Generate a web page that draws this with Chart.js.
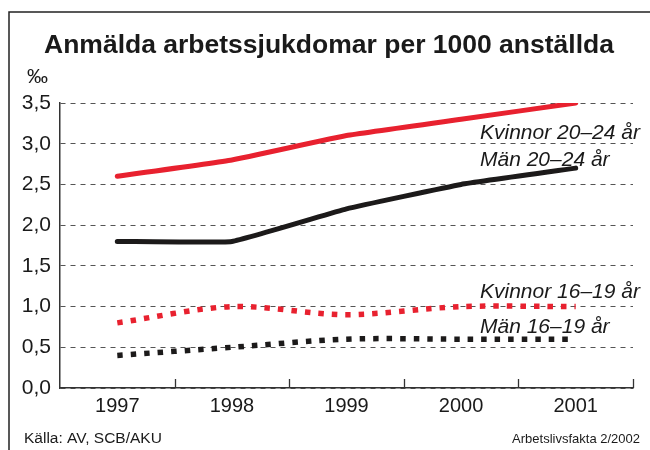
<!DOCTYPE html>
<html>
<head>
<meta charset="utf-8">
<script src="https://cdn.jsdelivr.net/npm/chart.js@4"></script>
<style>
  html, body { margin: 0; padding: 0; background: #fff; }
  #wrap { width: 650px; height: 450px; position: relative; }
</style>
</head>
<body>
<div id="wrap"><canvas id="chart" width="650" height="450"></canvas></div>
<script>
// data
const years = ['1997', '1998', '1999', '2000', '2001'];
const kvinnor2024 = [2.6, 2.8, 3.1, 3.3, 3.5];
const man2024 = [1.8, 1.8, 2.2, 2.5, 2.7];
const kvinnor1619 = [0.8, 1.0, 0.9, 1.0, 1.0];
const man1619 = [0.4, 0.5, 0.6, 0.6, 0.6];
const seriesNames = ['Kvinnor 20–24 år', 'Män 20–24 år', 'Kvinnor 16–19 år', 'Män 16–19 år'];

const RED = '#e8212f';
const BLACK = '#1c1a1a';
const FONT = '"Liberation Sans", Arial, sans-serif';

// title, frame, series labels, footer, inward x ticks
const decor = {
    id: 'decor',
    afterDraw(chart) {
        const ctx = chart.ctx;
        const a = chart.chartArea;
        ctx.save();

        // frame (only left + top edges show in the reference)
        ctx.strokeStyle = '#222';
        ctx.lineWidth = 1.5;
        ctx.beginPath();
        ctx.moveTo(9, 450);
        ctx.lineTo(9, 12);
        ctx.lineTo(650, 12);
        ctx.stroke();

        // title
        ctx.fillStyle = '#1a1a1a';
        ctx.font = 'bold 26.5px ' + FONT;
        ctx.textAlign = 'center';
        ctx.textBaseline = 'alphabetic';
        ctx.fillText('Anmälda arbetssjukdomar per 1000 anställda', 329, 53);

        // unit
        ctx.font = '21px ' + FONT;
        ctx.textAlign = 'left';
        ctx.fillText('‰', 27, 83);

        // inward ticks between categories
        ctx.strokeStyle = '#333';
        ctx.lineWidth = 1.3;
        const step = (a.right - a.left) / years.length;
        for (let i = 1; i <= years.length; i++) {
            const px = Math.round(a.left + step * i) + 0.5;
            ctx.beginPath();
            ctx.moveTo(px, a.bottom);
            ctx.lineTo(px, a.bottom - 9);
            ctx.stroke();
        }

        // series labels
        ctx.font = 'italic 21px ' + FONT;
        ctx.fillStyle = '#1a1a1a';
        ctx.textAlign = 'left';
        ctx.fillText(seriesNames[0], 480, 139);
        ctx.fillText(seriesNames[1], 480, 166);
        ctx.fillText(seriesNames[2], 480, 298);
        ctx.fillText(seriesNames[3], 480, 333);

        // footer
        ctx.font = '15.5px ' + FONT;
        ctx.fillText('Källa: AV, SCB/AKU', 24, 443);
        ctx.textAlign = 'right';
        ctx.font = '13px ' + FONT;
        ctx.fillText('Arbetslivsfakta 2/2002', 640, 443);

        ctx.restore();
    }
};

new Chart(document.getElementById('chart').getContext('2d'), {
    type: 'line',
    data: {
        labels: years,
        datasets: [
            { label: seriesNames[0], data: kvinnor2024, borderColor: RED, borderWidth: 5, tension: 0.1 },
            { label: seriesNames[1], data: man2024, borderColor: BLACK, borderWidth: 5, tension: 0.1 },
            { label: seriesNames[2], data: kvinnor1619, borderColor: RED, borderWidth: 5.5, borderDash: [5.5, 8], tension: 0.3, borderCapStyle: 'butt' },
            { label: seriesNames[3], data: man1619, borderColor: BLACK, borderWidth: 5.5, borderDash: [5.5, 8], tension: 0.3, borderCapStyle: 'butt' }
        ]
    },
    options: {
        responsive: false,
        animation: false,
        devicePixelRatio: 1,
        layout: { padding: { top: 103, right: 17, bottom: 30, left: 0 } },
        elements: {
            point: { radius: 0 },
            line: { borderCapStyle: 'round', borderJoinStyle: 'round', fill: false }
        },
        plugins: {
            legend: { display: false },
            tooltip: { enabled: false },
            title: { display: false }
        },
        scales: {
            x: {
                offset: true,
                grid: { display: false, drawTicks: false },
                border: { display: true, color: '#333', width: 1.5 },
                ticks: { color: '#1a1a1a', font: { family: FONT, size: 20 }, padding: 6 },
                afterFit(scale) { scale.height = 32; }
            },
            y: {
                min: 0,
                max: 3.5,
                ticks: {
                    stepSize: 0.5,
                    color: '#1a1a1a',
                    font: { family: FONT, size: 21 },
                    padding: 9,
                    callback: v => v.toFixed(1).replace('.', ',')
                },
                grid: { color: '#555', lineWidth: 1, drawTicks: false },
                border: { display: true, color: '#333', width: 1.5, dash: [5, 5] },
                afterFit(scale) { scale.width = 60; }
            }
        }
    },
    plugins: [decor]
});
</script>
</body>
</html>
